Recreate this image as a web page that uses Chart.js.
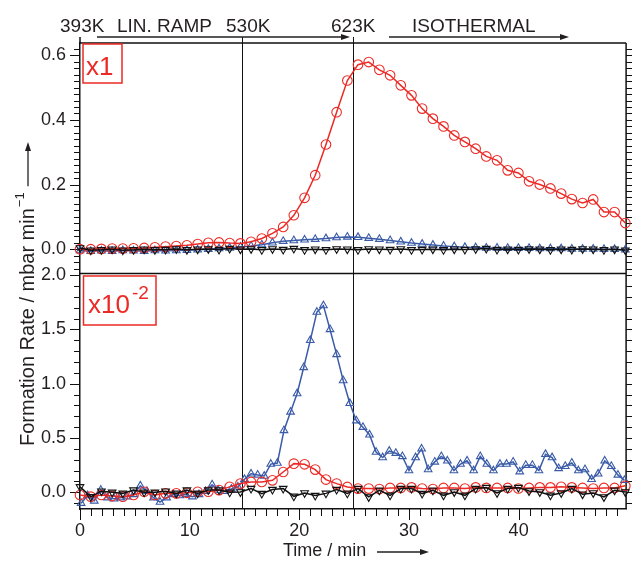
<!DOCTYPE html>
<html>
<head>
<meta charset="utf-8">
<script src="https://cdn.jsdelivr.net/npm/chart.js@4.4.1/dist/chart.umd.min.js"></script>
<style>
  html, body { margin: 0; padding: 0; background: #fff; }
  #wrap { width: 632px; height: 562px; }
</style>
</head>
<body>
<div id="wrap"><canvas id="rate" width="632" height="562"></canvas></div>
<script>
// time grid (min) for red + black traces and top blue trace
const timeMin = [0, 0.98, 1.95, 2.93, 3.9, 4.88, 5.85, 6.83, 7.8, 8.78,
  9.75, 10.73, 11.7, 12.68, 13.65, 14.63, 15.6, 16.58, 17.55, 18.53,
  19.5, 20.48, 21.45, 22.43, 23.4, 24.38, 25.35, 26.33, 27.3, 28.28,
  29.25, 30.23, 31.2, 32.18, 33.15, 34.13, 35.1, 36.08, 37.05, 38.03,
  39.0, 39.98, 40.95, 41.93, 42.9, 43.88, 44.85, 45.83, 46.8, 47.78,
  48.75, 49.73];

// top panel (x1)
const redTop = [0.000, 0.000, 0.001, 0.002, 0.002, 0.003, 0.004, 0.006, 0.008, 0.010,
  0.012, 0.016, 0.020, 0.021, 0.019, 0.018, 0.023, 0.033, 0.049, 0.069,
  0.105, 0.159, 0.229, 0.324, 0.424, 0.522, 0.571, 0.579, 0.555, 0.538,
  0.507, 0.476, 0.435, 0.404, 0.380, 0.352, 0.332, 0.311, 0.287, 0.275,
  0.244, 0.236, 0.210, 0.200, 0.188, 0.172, 0.155, 0.143, 0.154, 0.115,
  0.115, 0.081];
const blueTop = [-0.004, -0.006, -0.005, -0.006, -0.004, -0.005, -0.006, -0.004, -0.005, -0.004,
  -0.003, -0.002, 0.000, 0.002, 0.004, 0.007, 0.010, 0.014, 0.020, 0.025,
  0.027, 0.029, 0.031, 0.033, 0.036, 0.038, 0.037, 0.034, 0.031, 0.027,
  0.023, 0.019, 0.016, 0.013, 0.010, 0.008, 0.006, 0.005, 0.004, 0.004,
  0.003, 0.003, 0.003, 0.002, 0.002, 0.002, 0.001, 0.001, 0.001, 0.000,
  0.000, -0.002];
const blackTop = [0.004, -0.003, -0.002, 0.000, -0.003, -0.002, 0.000, -0.002, -0.001, 0.001,
  -0.002, 0.000, 0.001, -0.001, 0.002, 0.000, 0.001, -0.002, 0.001, -0.001,
  0.002, -0.002, 0.000, -0.002, 0.001, 0.000, -0.002, 0.001, 0.000, -0.001,
  0.001, -0.002, -0.001, 0.000, -0.002, 0.000, -0.001, 0.001, 0.002, -0.001,
  0.000, -0.001, 0.001, 0.000, -0.002, 0.000, -0.001, 0.001, 0.000, -0.002,
  0.000, -0.003];

// bottom panel (x10^-2)
const redBottom = [-0.025, -0.040, -0.025, -0.035, -0.040, -0.025, 0.005, -0.025, -0.010, -0.010,
  -0.005, 0.005, 0.005, 0.020, 0.050, 0.080, 0.095, 0.095, 0.110, 0.187,
  0.264, 0.258, 0.209, 0.117, 0.080, 0.049, 0.034, 0.034, 0.030, 0.040,
  0.040, 0.045, 0.035, 0.030, 0.040, 0.040, 0.035, 0.045, 0.040, 0.040,
  0.040, 0.035, 0.040, 0.045, 0.045, 0.050, 0.045, 0.040, 0.035, 0.040,
  0.040, 0.060];
const blackBottom = [0.050, -0.040, 0.010, 0.000, -0.010, 0.020, 0.000, 0.000, 0.010, -0.010,
  0.020, -0.010, 0.020, 0.020, 0.000, 0.003, 0.034, -0.012, 0.025, 0.034,
  -0.037, -0.006, -0.030, -0.010, 0.025, -0.010, 0.034, -0.043, 0.018, -0.028,
  0.034, 0.034, -0.012, 0.018, -0.028, 0.003, -0.028, 0.034, 0.043, -0.006,
  0.034, 0.043, 0.012, 0.003, -0.028, -0.006, 0.034, -0.018, -0.006, -0.043,
  0.018, 0.003];
// blue bottom trace is sampled more densely
const blueTime = [0.1, 0.7, 1.3, 1.9, 2.5, 3.1, 3.7, 4.3, 4.9, 5.5,
  6.1, 6.7, 7.3, 7.9, 8.5, 9.1, 9.65, 10.25, 10.85, 11.45,
  12.05, 12.6, 13.2, 13.8, 14.4, 15.0, 15.6, 16.2, 16.8, 17.4,
  18.0, 18.6, 19.2, 19.8, 20.4, 21.0, 21.6, 22.2, 22.8, 23.4,
  24.0, 24.6, 25.2, 25.8, 26.4, 27.0, 27.6, 28.2, 28.8, 29.4,
  30.0, 30.6, 31.15, 31.75, 32.35, 32.95, 33.5, 34.1, 34.7, 35.3,
  35.9, 36.5, 37.1, 37.7, 38.3, 38.9, 39.5, 40.1, 40.65, 41.25,
  41.85, 42.45, 43.05, 43.65, 44.25, 44.85, 45.45, 46.05, 46.65, 47.25,
  47.85, 48.45, 49.05, 49.65];
const blueBottom = [-0.10, -0.03, -0.08, 0.02, -0.05, -0.06, -0.05, -0.04, -0.02, 0.06,
  0.01, -0.05, -0.09, -0.05, -0.02, -0.03, -0.02, -0.04, -0.02, 0.01,
  0.07, 0.02, 0.01, 0.03, 0.05, 0.12, 0.17, 0.16, 0.15, 0.26,
  0.27, 0.57, 0.74, 0.91, 1.15, 1.40, 1.66, 1.72, 1.50, 1.27,
  1.03, 0.82, 0.66, 0.60, 0.53, 0.37, 0.32, 0.38, 0.36, 0.33,
  0.20, 0.32, 0.40, 0.21, 0.28, 0.33, 0.29, 0.20, 0.26, 0.29,
  0.20, 0.33, 0.26, 0.20, 0.26, 0.26, 0.28, 0.19, 0.25, 0.25,
  0.20, 0.35, 0.32, 0.22, 0.24, 0.27, 0.20, 0.21, 0.12, 0.17,
  0.29, 0.24, 0.16, 0.11];

// temperature markers (min) and labels above the plot
const markerTimes = [14.75, 24.85];

const FONT = '"Liberation Sans", Arial, Helvetica, sans-serif';
const RED = '#ec2a25';
const BLUE = '#3a5ba8';
const BLACK = '#111111';
const INK = '#231f20';

function pts(xs, ys) {
  return xs.map((x, i) => ({ x: x, y: ys[i] }));
}

function series(label, xs, ys, axis, color, style, order) {
  const down = style === 'down';
  return {
    label: label,
    data: pts(xs, ys),
    yAxisID: axis,
    borderColor: color,
    borderWidth: 1.5,
    pointStyle: style === 'circle' ? 'circle' : 'triangle',
    pointRotation: down ? 180 : 0,
    pointRadius: style === 'circle' ? 4.8 : 4.4,
    pointBorderWidth: 1.1,
    pointBorderColor: color,
    pointBackgroundColor: 'rgba(0,0,0,0)',
    tension: 0,
    clip: 8,
    order: order
  };
}

function arrow(ctx, x1, y1, x2, y2) {
  const ang = Math.atan2(y2 - y1, x2 - x1);
  ctx.beginPath();
  ctx.moveTo(x1, y1);
  ctx.lineTo(x2 - 7 * Math.cos(ang), y2 - 7 * Math.sin(ang));
  ctx.stroke();
  ctx.beginPath();
  ctx.moveTo(x2, y2);
  ctx.lineTo(x2 - 9 * Math.cos(ang) + 3 * Math.sin(ang), y2 - 9 * Math.sin(ang) - 3 * Math.cos(ang));
  ctx.lineTo(x2 - 9 * Math.cos(ang) - 3 * Math.sin(ang), y2 - 9 * Math.sin(ang) + 3 * Math.cos(ang));
  ctx.closePath();
  ctx.fill();
}

// minor/major ticks on both sides, panel frames, marker lines
const framePlugin = {
  id: 'frame',
  beforeDatasetsDraw(chart) {
    const ctx = chart.ctx;
    const a = chart.chartArea;
    const x = chart.scales.x;
    const yTop = chart.scales.yTop;
    const yBot = chart.scales.yBot;
    ctx.save();
    ctx.strokeStyle = BLACK;

    // vertical temperature lines
    ctx.lineWidth = 1;
    markerTimes.forEach(t => {
      const px = Math.round(x.getPixelForValue(t)) + 0.5;
      ctx.beginPath();
      ctx.moveTo(px, 37);
      ctx.lineTo(px, a.bottom);
      ctx.stroke();
    });

    ctx.lineWidth = 1.5;
    ctx.beginPath();
    ctx.moveTo(a.left, 37); ctx.lineTo(a.left, a.top);
    ctx.moveTo(a.left, a.top); ctx.lineTo(a.right, a.top);
    ctx.moveTo(a.left, yTop.bottom); ctx.lineTo(a.right, yTop.bottom);
    ctx.moveTo(a.right, a.top); ctx.lineTo(a.right, a.bottom);
    ctx.stroke();

    ctx.lineWidth = 1;
    function yTicks(scale, from, to, step, majorEvery) {
      const n = Math.round((to - from) / step);
      for (let i = 0; i <= n; i++) {
        const v = from + i * step;
        const py = Math.round(scale.getPixelForValue(v)) + 0.5;
        const major = Math.abs(v / majorEvery - Math.round(v / majorEvery)) < 1e-6;
        const len = major ? 10 : 6;
        ctx.beginPath();
        ctx.moveTo(a.left - len, py); ctx.lineTo(a.left, py);
        ctx.moveTo(a.right, py); ctx.lineTo(a.right + len, py);
        ctx.stroke();
      }
    }
    yTicks(yTop, -0.06, 0.62, 0.02, 0.2);
    yTicks(yBot, -0.1, 2.0, 0.1, 0.5);

    for (let t = 0; t <= 49; t++) {
      const px = Math.round(x.getPixelForValue(t)) + 0.5;
      const len = t % 10 === 0 ? 11 : 7;
      ctx.beginPath();
      ctx.moveTo(px, a.bottom); ctx.lineTo(px, a.bottom + len);
      ctx.stroke();
    }
    ctx.restore();
  },
  afterDraw(chart) {
    const ctx = chart.ctx;
    ctx.save();
    ctx.fillStyle = INK;
    ctx.strokeStyle = INK;

    // heading
    ctx.font = '19px ' + FONT;
    ctx.textBaseline = 'alphabetic';
    ctx.textAlign = 'left';
    ctx.fillText('393K', 60, 32);
    ctx.fillText('LIN. RAMP', 117, 32);
    ctx.fillText('530K', 226, 32);
    ctx.fillText('623K', 331, 32);
    ctx.fillText('ISOTHERMAL', 412, 32);
    ctx.lineWidth = 1.3;
    arrow(ctx, 97, 37, 350, 37);
    arrow(ctx, 389, 37, 569, 37);

    // axis titles
    ctx.font = '18px ' + FONT;
    ctx.textBaseline = 'middle';
    ctx.fillText('Time / min', 283, 551);
    arrow(ctx, 377, 552, 429, 552);

    ctx.save();
    ctx.translate(28, 446);
    ctx.rotate(-Math.PI / 2);
    ctx.font = '20px ' + FONT;
    const label = 'Formation Rate / mbar min';
    ctx.fillText(label, 0, 0);
    const w = ctx.measureText(label).width;
    ctx.font = '13px ' + FONT;
    ctx.fillText('\u22121', w + 1, -8);
    arrow(ctx, w + 22, 0, 304, 0);
    ctx.restore();

    // scale factor boxes
    ctx.strokeStyle = RED;
    ctx.fillStyle = RED;
    ctx.lineWidth = 1.5;
    ctx.strokeRect(83, 44, 39, 39);
    ctx.strokeRect(83.5, 276, 72.5, 49);
    ctx.textBaseline = 'alphabetic';
    ctx.font = '26px ' + FONT;
    ctx.fillText('x1', 86, 75);
    ctx.fillText('x10', 88, 313);
    ctx.font = '19px ' + FONT;
    ctx.fillText('-2', 132, 299);
    ctx.restore();
  }
};

const tickFont = { family: FONT, size: 18 };

new Chart(document.getElementById('rate'), {
  type: 'line',
  data: {
    datasets: [
      series('m/z 44 (x1)', timeMin, redTop, 'yTop', RED, 'circle', 2),
      series('m/z 2 (x1)', timeMin, blueTop, 'yTop', BLUE, 'up', 3),
      series('m/z 28 (x1)', timeMin, blackTop, 'yTop', BLACK, 'down', 1),
      series('m/z 44 (x10^-2)', timeMin, redBottom, 'yBot', RED, 'circle', 2),
      series('m/z 2 (x10^-2)', blueTime, blueBottom, 'yBot', BLUE, 'up', 3),
      series('m/z 28 (x10^-2)', timeMin, blackBottom, 'yBot', BLACK, 'down', 1)
    ]
  },
  options: {
    responsive: false,
    animation: false,
    layout: { padding: { top: 43, right: 5, left: 0, bottom: 0 } },
    plugins: {
      legend: { display: false },
      tooltip: { enabled: false }
    },
    scales: {
      x: {
        type: 'linear',
        position: 'bottom',
        min: 0,
        max: 49.8,
        grid: { display: false, drawTicks: false },
        border: { display: true, color: BLACK, width: 1.5 },
        ticks: {
          stepSize: 10,
          includeBounds: false,
          maxRotation: 0,
          padding: 11,
          color: INK,
          font: tickFont
        },
        afterFit(s) { s.height = 53; }
      },
      // bottom panel first: later scales in a stack are placed on top
      yBot: {
        type: 'linear',
        position: 'left',
        stack: 'panels',
        stackWeight: 235.7,
        min: -0.154,
        max: 2.016,
        grid: { display: false, drawTicks: false },
        border: { display: true, color: BLACK, width: 1.5 },
        ticks: {
          stepSize: 0.5,
          includeBounds: false,
          padding: 14,
          color: INK,
          font: tickFont,
          callback: v => v.toFixed(1)
        },
        afterFit(s) { s.width = 80; }
      },
      yTop: {
        type: 'linear',
        position: 'left',
        stack: 'panels',
        stackWeight: 230.6,
        min: -0.075,
        max: 0.638,
        grid: { display: false, drawTicks: false },
        border: { display: true, color: BLACK, width: 1.5 },
        ticks: {
          stepSize: 0.2,
          includeBounds: false,
          padding: 14,
          color: INK,
          font: tickFont,
          callback: v => v.toFixed(1)
        },
        afterFit(s) { s.width = 80; }
      }
    }
  },
  plugins: [framePlugin]
});
</script>
</body>
</html>
